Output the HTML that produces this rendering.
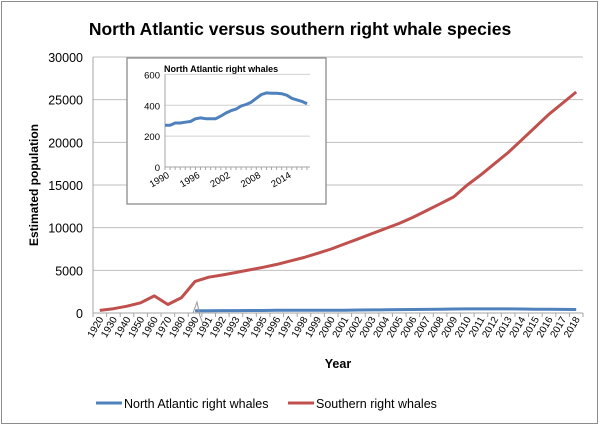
<!DOCTYPE html>
<html><head><meta charset="utf-8"><style>
body{margin:0;background:#fff}
svg{display:block;font-family:"Liberation Sans",sans-serif}
</style></head><body>
<svg id="s" width="600" height="426" xmlns="http://www.w3.org/2000/svg">
<rect x="1.5" y="1.5" width="596" height="422" fill="#fff" stroke="#8c8c8c"/>
<text x="300" y="35" font-size="17.5" font-weight="bold" text-anchor="middle" fill="#000">North Atlantic versus southern right whale species</text>
<g id="grid"></g>
<text transform="translate(38,185) rotate(-90)" font-size="12" font-weight="bold" text-anchor="middle">Estimated population</text>
<text x="338" y="368" font-size="12.5" font-weight="bold" text-anchor="middle">Year</text>
<polyline id="red" fill="none" stroke="#c0504d" stroke-width="3" stroke-linejoin="round"/>
<polyline id="blue" fill="none" stroke="#4f81bd" stroke-width="3" stroke-linejoin="round"/>
<path d="M193,313 L197,302 L200,316 L203,324" fill="none" stroke="#999" stroke-width="1"/>
<rect x="127" y="58" width="199" height="146" fill="#fff" stroke="#8c8c8c" stroke-width="1.3"/>
<text x="164" y="72" font-size="9" font-weight="bold">North Atlantic right whales</text>
<g id="inset"></g>
<polyline id="iblue" fill="none" stroke="#4f81bd" stroke-width="3" stroke-linejoin="round"/>
<line x1="96" y1="403" x2="122" y2="403" stroke="#4f81bd" stroke-width="3"/>
<text x="124" y="408" font-size="12.5">North Atlantic right whales</text>
<line x1="288" y1="403" x2="314" y2="403" stroke="#c0504d" stroke-width="3"/>
<text x="316" y="408" font-size="12.5">Southern right whales</text>
</svg>
<script>
var NS="http://www.w3.org/2000/svg";
function el(p,t,a,txt){var e=document.createElementNS(NS,t);for(var k in a)e.setAttribute(k,a[k]);if(txt!=null)e.textContent=txt;p.appendChild(e);return e;}
var g=document.getElementById('grid');
var X0=93,X1=583,Y0=313,Yt=57,cw=(X1-X0)/36;
function Y(v){return Y0-(Y0-Yt)*v/30000;}
for(var i=0;i<=6;i++){var y=Y(i*5000);
 el(g,'line',{x1:X0,x2:X1,y1:y,y2:y,stroke:i?'#bfbfbf':'#a6a6a6','stroke-width':1});
 el(g,'text',{x:X0-10,y:y+5,'font-size':12.5,'text-anchor':'end'},String(i*5000));}
el(g,'line',{x1:X0,x2:X0,y1:Yt,y2:Y0,stroke:'#a6a6a6'});
var labels=[];for(var i=1920;i<=1990;i+=10)labels.push(i);for(var i=1991;i<=2018;i++)labels.push(i);
for(var i=0;i<=36;i++){var x=X0+i*cw;el(g,'line',{x1:x,x2:x,y1:Y0,y2:Y0+4,stroke:'#a6a6a6'});}
labels.forEach(function(l,i){var x=X0+(i+0.5)*cw+4;el(g,'text',{x:x,y:Y0+6,'font-size':10,'text-anchor':'end',transform:'rotate(-60 '+x+' '+(Y0+6)+')'},String(l));});
var red=[300,500,800,1200,2000,1000,1800,3700,4200,4450,4750,5050,5350,5700,6100,6500,7000,7500,8100,8700,9300,9900,10500,11200,12000,12800,13600,15000,16200,17500,18800,20300,21800,23300,24600,25900];
var blue=[270,270,285,285,290,295,312,318,313,313,313,330,350,365,375,395,405,420,445,470,480,478,478,475,465,445,435,425,410];
var pr=red.map(function(v,i){return (X0+(i+0.5)*cw).toFixed(1)+','+Y(v).toFixed(1);}).join(' ');
document.getElementById('red').setAttribute('points',pr);
var pb=blue.map(function(v,i){return (X0+(i+7.5)*cw).toFixed(1)+','+Y(v).toFixed(1);}).join(' ');
document.getElementById('blue').setAttribute('points',pb);
var ig=document.getElementById('inset');var ix0=165,ix1=307,iy0=167,iyt=74.4;
function IY(v){return iy0-(iy0-iyt)*v/600;}
for(var i=0;i<=3;i++){var y=IY(i*200);
 el(ig,'line',{x1:ix0,x2:310,y1:y,y2:y,stroke:i?'#d0d0d0':'#a6a6a6'});
 el(ig,'text',{x:ix0-5,y:y+4,'font-size':9.5,'text-anchor':'end'},String(i*200));}
el(ig,'line',{x1:ix0,x2:ix0,y1:iyt,y2:iy0,stroke:'#a6a6a6'});
var dx=(ix1-ix0)/28;
for(var i=0;i<=28;i++){var x=ix0+i*dx;el(ig,'line',{x1:x,x2:x,y1:iy0,y2:iy0+3,stroke:'#a6a6a6'});}
for(var yr=1990;yr<=2014;yr+=6){var x=ix0+(yr-1990)*dx+5;el(ig,'text',{x:x,y:iy0+10,'font-size':9.5,'text-anchor':'end',transform:'rotate(-30 '+x+' '+(iy0+10)+')'},String(yr));}
var pi=blue.map(function(v,i){return (ix0+i*dx).toFixed(1)+','+IY(v).toFixed(1);}).join(' ');
document.getElementById('iblue').setAttribute('points',pi);
</script>
</body></html>
